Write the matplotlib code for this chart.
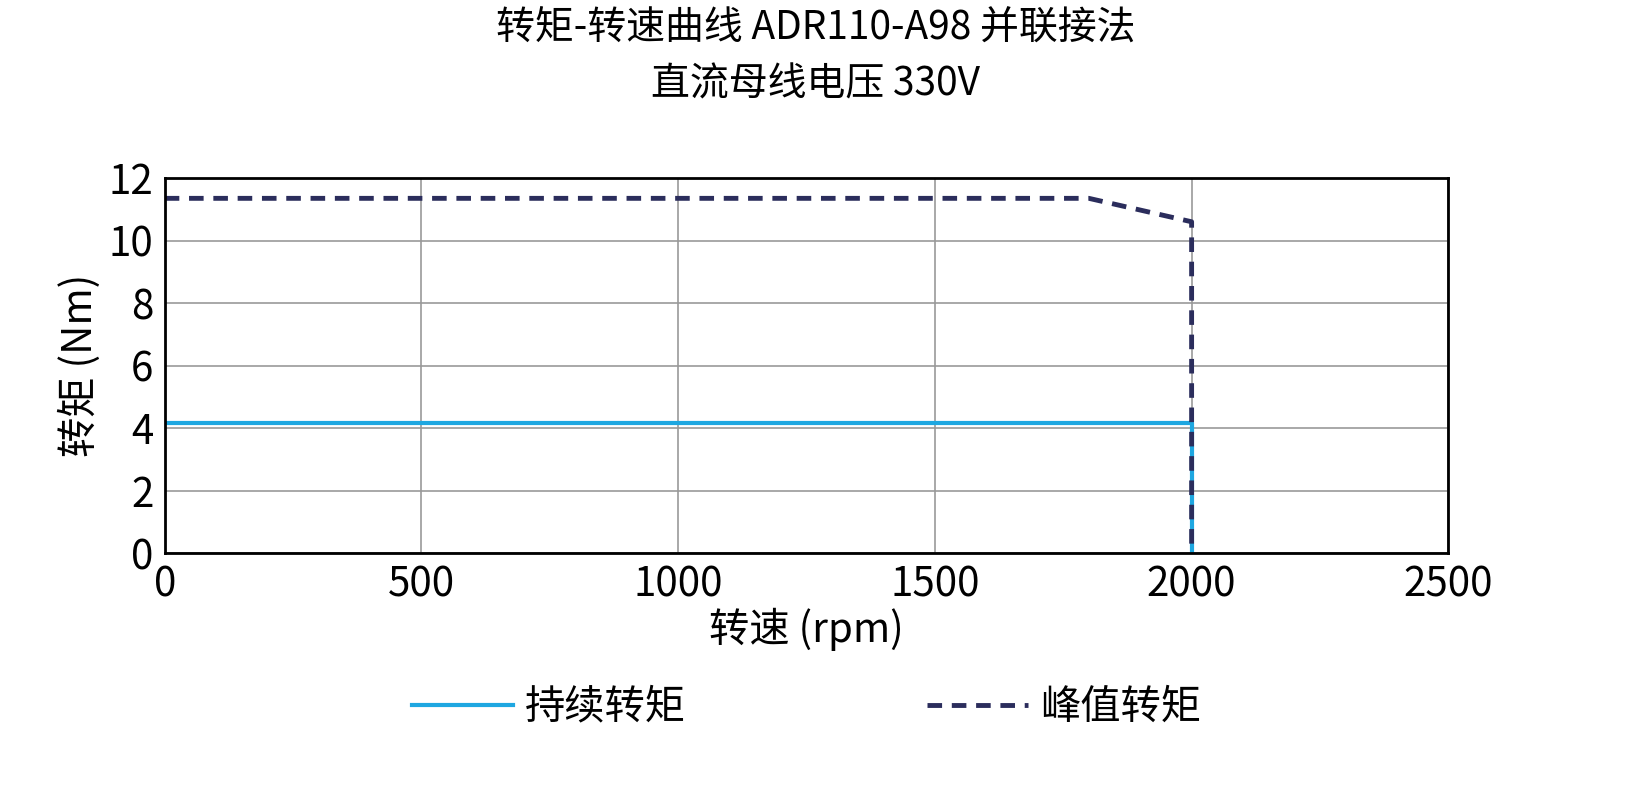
import matplotlib
matplotlib.use("Agg")
import matplotlib.pyplot as plt

plt.rcParams['font.family'] = ['Noto Sans CJK SC', 'DejaVu Sans']

# data
cont_speed = [0, 2000, 2000]
cont_torque = [4.15, 4.15, 0]
peak_speed = [0, 1800, 2000, 2000]
peak_torque = [11.35, 11.35, 10.6, 0]

fig = plt.figure(figsize=(16.31, 7.86), dpi=100)
ax = fig.add_axes([0.101, 0.2964, 0.787, 0.4771])

ax.plot(cont_speed, cont_torque, color='#1ea7e1', lw=3, label='持续转矩')
ax.plot(peak_speed, peak_torque, color='#2b2d5c', lw=3.5, ls=(0, (3, 2)), label='峰值转矩')

ax.set_xlim(0, 2500)
ax.set_ylim(0, 12)
ax.set_xticks(range(0, 2501, 500))
ax.set_yticks(range(0, 13, 2))
ax.grid(True, color='#999999', lw=1.2)
for s in ax.spines.values():
    s.set_linewidth(2)
ax.tick_params(labelsize=29, length=0, pad=8)
ax.set_xlabel('转速 (rpm)', fontsize=29, labelpad=2)
ax.set_ylabel('转矩 (Nm)', fontsize=29, labelpad=6)
fig.suptitle('转矩-转速曲线 ADR110-A98 并联接法\n直流母线电压 330V', fontsize=28,
             y=0.99, linespacing=1.55)

ax.legend(loc='upper center', bbox_to_anchor=(0.5, -0.26), ncol=2, frameon=False,
          fontsize=29, handlelength=2.5, columnspacing=6, handletextpad=0.3)

fig.savefig('out.png', dpi=100)
